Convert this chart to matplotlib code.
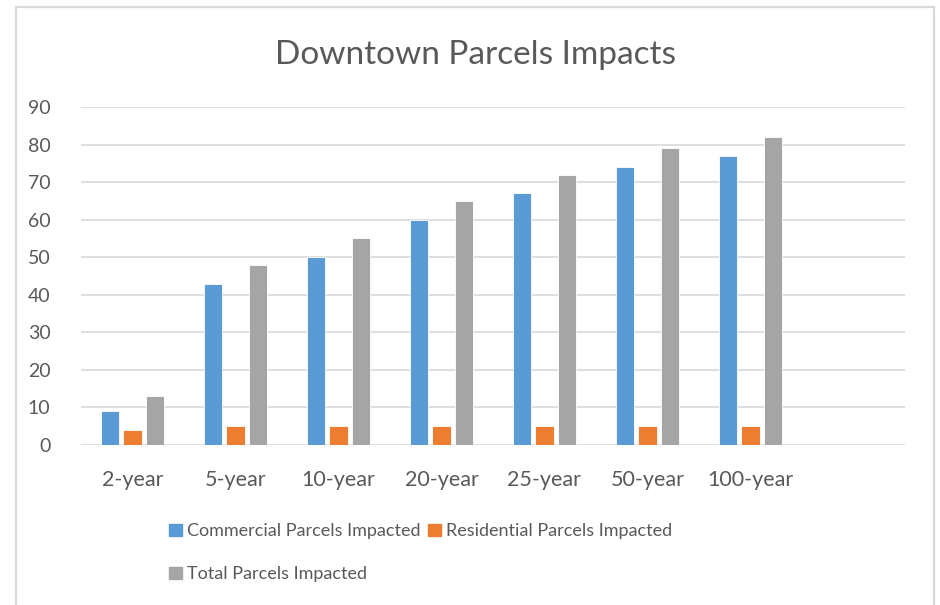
import numpy as np
import matplotlib
matplotlib.use('Agg')
import matplotlib.pyplot as plt
from matplotlib.patches import Rectangle, Patch

# datos
categorias = ['2-year', '5-year', '10-year', '20-year', '25-year', '50-year', '100-year']
comercial = [9, 43, 50, 60, 67, 74, 77]
residencial = [4, 5, 5, 5, 5, 5, 5]
total = [13, 48, 55, 65, 72, 79, 82]

series = ['Commercial Parcels Impacted', 'Residential Parcels Impacted', 'Total Parcels Impacted']
colores = ['#5B9BD5', '#ED7D31', '#A5A5A5']
gris_texto = '#595959'

plt.rcParams['font.family'] = ['Lato', 'DejaVu Sans']

W, H = 940, 605
fig = plt.figure(figsize=(W / 100, H / 100), dpi=100)
fig.patch.set_facecolor('white')

# marco del grafico (sin borde inferior visible)
fig.patches.append(Rectangle((16 / W, -0.05), (934 - 16) / W, (605 - 7) / H + 0.05,
                             transform=fig.transFigure, fill=False,
                             edgecolor='#d9d9d9', linewidth=1.6))

ax = fig.add_axes([81 / W, (H - 445) / H, (905 - 81) / W, (445 - 107) / H])

x = np.arange(len(categorias))
ancho = 0.175
paso = 0.223
for i, (vals, col) in enumerate(zip([comercial, residencial, total], colores)):
    ax.bar(x + (i - 1) * paso, vals, ancho, color=col, edgecolor='white',
           linewidth=0.6, zorder=3, label=series[i])

ax.set_xlim(-0.5, 7.5)
ax.set_ylim(0, 90)
ax.set_yticks(range(0, 91, 10))
ax.set_xticks(x)
ax.set_xticklabels(categorias)
ax.grid(axis='y', color='#d9d9d9', linewidth=1.2, zorder=0)
for s in ax.spines.values():
    s.set_visible(False)
ax.tick_params(axis='both', length=0, colors=gris_texto)
ax.tick_params(axis='y', pad=22, labelsize=14)
ax.tick_params(axis='x', pad=18, labelsize=15.5)

fig.text(475 / W, 1 - 55 / H, 'Downtown Parcels Impacts', ha='center', va='center',
         fontsize=24, color=gris_texto)

# leyenda en dos filas (orden por columnas de matplotlib)
handles = [Patch(color=colores[0]), Patch(color=colores[2]), Patch(color=colores[1])]
labels = [series[0], series[2], series[1]]
leg = fig.legend(handles, labels, ncol=2, loc='upper left',
                 bbox_to_anchor=(162 / W, 1 - 516 / H), frameon=False,
                 fontsize=13, labelcolor=gris_texto, handlelength=0.7,
                 handleheight=0.7, handletextpad=0.3, columnspacing=0.4,
                 labelspacing=1.5, borderaxespad=0)

fig.savefig('out.png', dpi=100)
